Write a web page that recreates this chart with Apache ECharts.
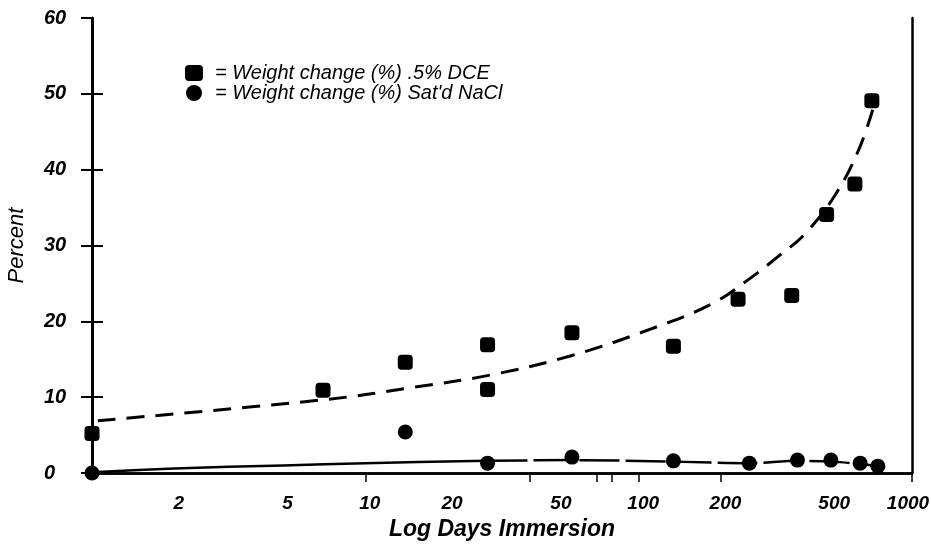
<!DOCTYPE html>
<html>
<head>
<meta charset="utf-8">
<script src="https://cdn.jsdelivr.net/npm/echarts@6/dist/echarts.min.js"></script>
<style>
html,body{margin:0;padding:0;background:#fff;}
#chart{width:931px;height:555px;}
</style>
</head>
<body>
<div id="chart"></div>
<script>
// ---- data ----
const dceDays   = [1, 7, 14, 28, 28, 57, 134, 231, 363, 487, 618, 713];
const dceValues = [5.2, 10.9, 14.6, 16.9, 11.0, 18.5, 16.7, 22.9, 23.4, 34.1, 38.1, 49.1];
const naclDays   = [1, 14, 28, 57, 134, 254, 381, 505, 646, 750];
const naclValues = [0, 5.4, 1.3, 2.1, 1.6, 1.3, 1.7, 1.7, 1.3, 0.9];
// dashed fit curve through DCE points
const dceFitDays   = [1.05, 7.2, 14.4, 29.4, 57, 111, 185, 252, 325, 405, 522, 638, 725];
const dceFitValues = [6.9, 9.7, 11.2, 13.0, 15.5, 19.0, 22.3, 25.5, 28.6, 31.5, 36.6, 42.6, 48.4];
// NaCl fit line: solid part then long-dash part
const naclFitSolidDays   = [1, 2, 5, 10, 28];
const naclFitSolidValues = [0.1, 0.6, 1.0, 1.3, 1.6];
const naclFitDashDays    = [28, 57, 134, 254, 381, 505, 646, 750];
const naclFitDashValues  = [1.6, 1.7, 1.5, 1.3, 1.6, 1.5, 1.2, 0.9];
// axis labels
const xTickLabels = [2, 5, 10, 20, 50, 100, 200, 500, 1000];
const xTickMarks  = [10, 40, 70, 80, 100, 200, 1000];
const yTicks = [0, 10, 20, 30, 40, 50, 60];
const dceName  = 'Weight change (%) .5% DCE';
const naclName = "Weight change (%) Sat'd NaCl";

const lg = v => Math.log10(v);
const pairs = (xs, ys) => xs.map((d, i) => [lg(d), ys[i]]);

const FONT = '"Liberation Sans", Arial, sans-serif';
const xLabelFont = { fontFamily: FONT, fontStyle: 'italic', fontWeight: 'bold', fontSize: 19, color: '#000' };
const chart = echarts.init(document.getElementById('chart'));
chart.setOption({
  backgroundColor: '#fff',
  animation: false,
  textStyle: { fontFamily: FONT, color: '#000' },
  grid: { left: 92, right: 19, top: 18, bottom: 82, outerBoundsMode: 'none', containLabel: false },
  legend: {
    orient: 'vertical',
    left: 185, top: 63, padding: 0,
    itemWidth: 18, itemHeight: 16, itemGap: 0,
    formatter: n => '= ' + n,
    textStyle: { fontFamily: FONT, fontStyle: 'italic', fontSize: 20, color: '#000', padding: [0, 0, 0, 7] },
    data: [{ name: dceName, icon: 'roundRect' }, { name: naclName, icon: 'circle' }]
  },
  xAxis: [{
    type: 'value', min: 0, max: 3, position: 'bottom',
    name: 'Log Days Immersion', nameLocation: 'middle', nameGap: 45,
    nameTextStyle: { fontFamily: FONT, fontStyle: 'italic', fontWeight: 'bold', fontSize: 23, color: '#000' },
    axisLine: { show: true, lineStyle: { color: '#000', width: 2.5 } },
    axisTick: { show: true, length: 9, lineStyle: { color: '#000', width: 1.5 },
      customValues: xTickMarks.map(lg) },
    axisLabel: Object.assign({ customValues: xTickLabels.map(lg), margin: 21,
      formatter: v => {
        const d = Math.round(Math.pow(10, v));
        return d === 1000 ? '{e|' + d + '}' : '{n|' + d + '}';
      },
      rich: {
        n: Object.assign({ padding: [0, 0, 0, 9] }, xLabelFont),
        e: Object.assign({ padding: [0, 8, 0, 0] }, xLabelFont)
      } }, xLabelFont),
    splitLine: { show: false }
  }, {
    type: 'value', min: 0, max: 3, position: 'top',
    axisLine: { show: true, lineStyle: { color: '#000', width: 2.5 } },
    axisTick: { show: false }, axisLabel: { show: false }, splitLine: { show: false }
  }],
  yAxis: [{
    type: 'value', min: 0, max: 60, interval: 10, position: 'left',
    name: 'Percent', nameLocation: 'middle', nameGap: 64,
    nameTextStyle: { fontFamily: FONT, fontStyle: 'italic', fontSize: 22, color: '#000' },
    axisLine: { show: true, lineStyle: { color: '#000', width: 3 } },
    axisTick: { show: true, length: 11, lineStyle: { color: '#000', width: 2 } },
    axisLabel: { margin: 48, align: 'left', fontFamily: FONT, fontStyle: 'italic', fontWeight: 'bold', fontSize: 20, color: '#000',
      customValues: yTicks },
    splitLine: { show: false }
  }, {
    type: 'value', min: 0, max: 60, interval: 10, position: 'left',
    axisLine: { show: false },
    axisTick: { show: true, inside: true, length: 11, lineStyle: { color: '#000', width: 2 },
      customValues: yTicks.slice(0, 6) },
    axisLabel: { show: false }, splitLine: { show: false }
  }, {
    type: 'value', min: 0, max: 60, position: 'right',
    axisLine: { show: true, lineStyle: { color: '#000', width: 2.5 } },
    axisTick: { show: false }, axisLabel: { show: false }, splitLine: { show: false }
  }],
  series: [
    { type: 'line', data: pairs(dceFitDays, dceFitValues), smooth: 0.4, symbol: 'none', silent: true,
      lineStyle: { color: '#000', width: 3, type: [18, 11] }, z: 2 },
    { type: 'line', data: pairs(naclFitSolidDays, naclFitSolidValues), smooth: 0.3, symbol: 'none', silent: true,
      lineStyle: { color: '#000', width: 2.5 }, z: 2 },
    { type: 'line', data: pairs(naclFitDashDays, naclFitDashValues), smooth: 0.3, symbol: 'none', silent: true,
      lineStyle: { color: '#000', width: 2.5, type: [40, 6] }, z: 2 },
    { name: dceName, type: 'scatter', data: pairs(dceDays, dceValues), symbol: 'roundRect', symbolSize: 15,
      itemStyle: { color: '#000', opacity: 1 }, z: 5 },
    { name: naclName, type: 'scatter', data: pairs(naclDays, naclValues), symbol: 'circle', symbolSize: 15,
      itemStyle: { color: '#000', opacity: 1 }, z: 5 }
  ]
});
</script>
</body>
</html>
